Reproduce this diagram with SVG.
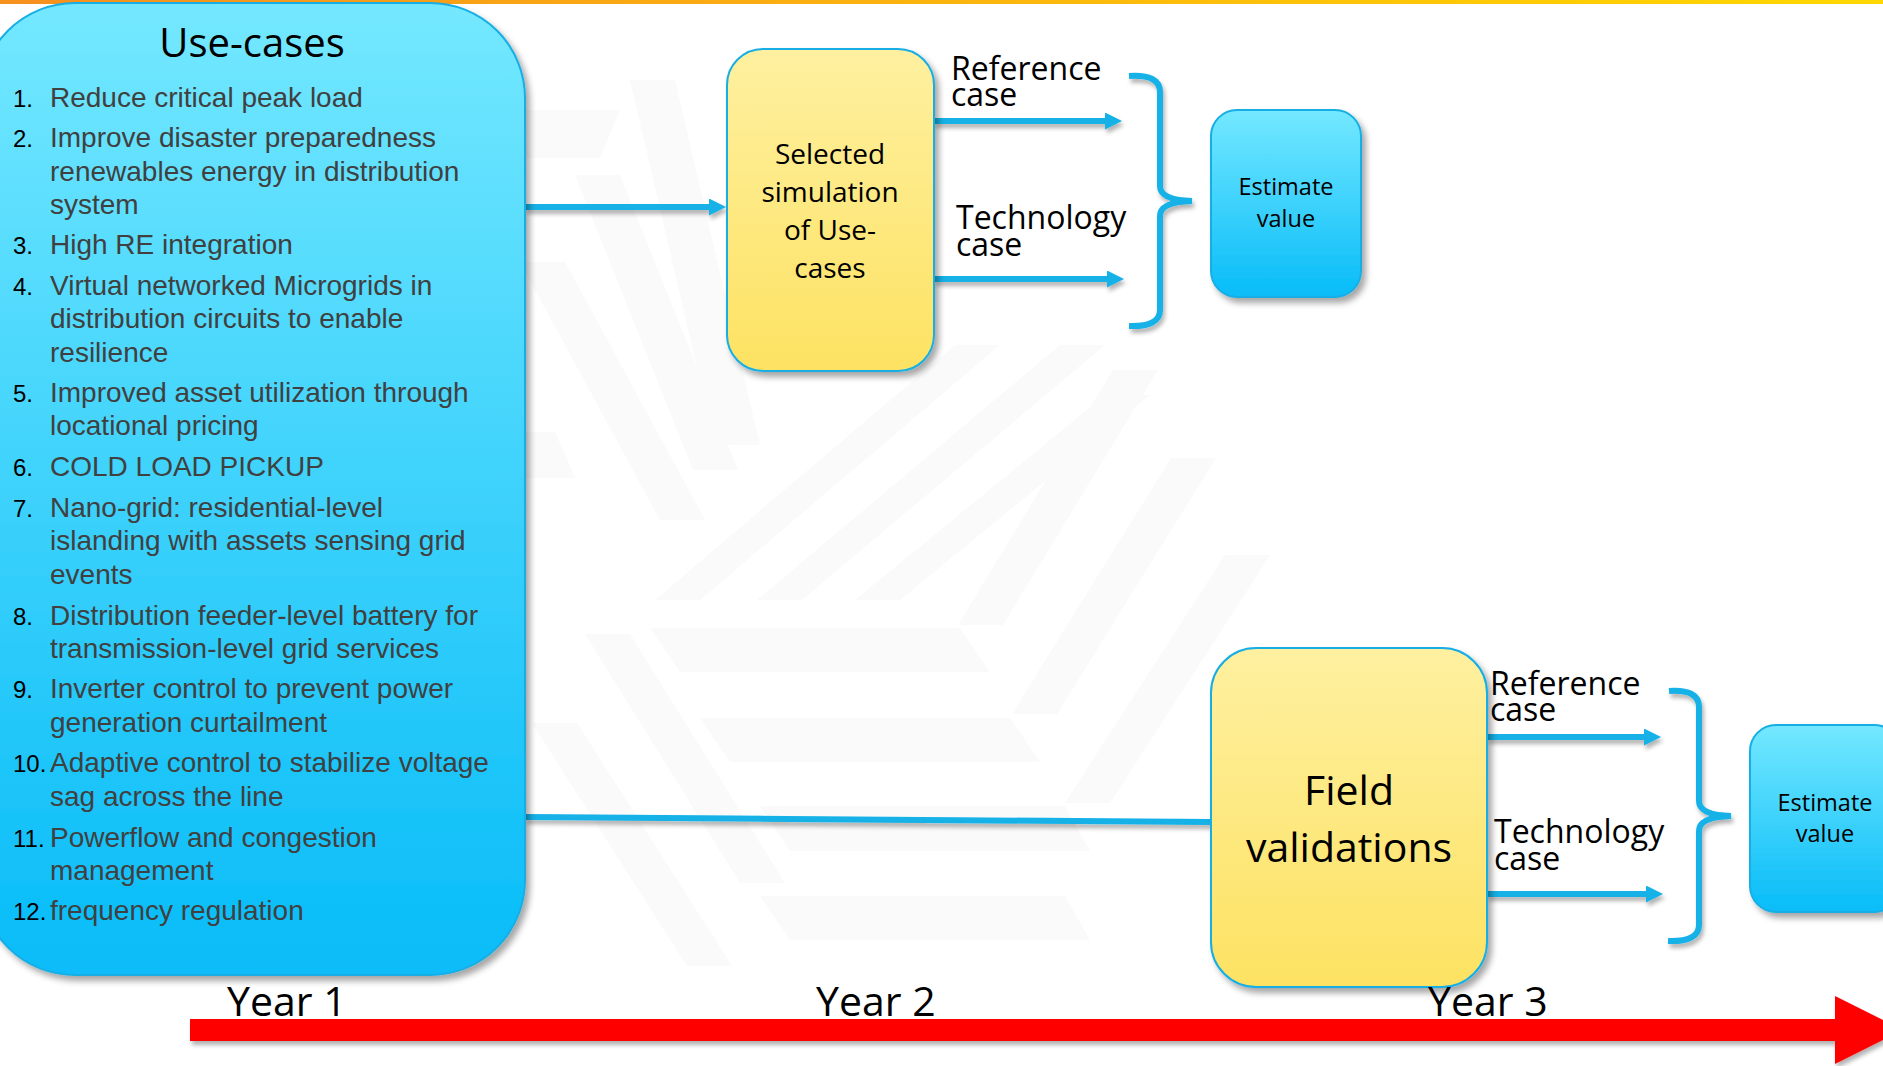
<svg xmlns="http://www.w3.org/2000/svg" width="1883" height="1066" viewBox="0 0 1883 1066">
<defs>
<linearGradient id="band" x1="0" y1="0" x2="1" y2="0"><stop offset="0" stop-color="#F7901E"/><stop offset="1" stop-color="#FFD800"/></linearGradient>
<linearGradient id="cyan" x1="0" y1="0" x2="0" y2="1"><stop offset="0" stop-color="#74E8FF"/><stop offset="1" stop-color="#07BCF8"/></linearGradient>
<linearGradient id="yellow" x1="0" y1="0" x2="0" y2="1"><stop offset="0" stop-color="#FEF0A0"/><stop offset="1" stop-color="#FDE262"/></linearGradient>
<filter id="shadow" x="-10%" y="-10%" width="130%" height="130%"><feDropShadow dx="4" dy="5" stdDeviation="3" flood-color="#000" flood-opacity="0.35"/></filter>
<filter id="lshadow" filterUnits="userSpaceOnUse" x="0" y="0" width="1883" height="1066"><feDropShadow dx="2" dy="4" stdDeviation="2" flood-color="#000" flood-opacity="0.3"/></filter>
<marker id="head" markerUnits="userSpaceOnUse" markerWidth="20" markerHeight="20" refX="3" refY="8.5" orient="auto"><path d="M0,0 L17,8.5 L0,17 z" fill="#14B1E7"/></marker>
</defs>
<style>
.item{font-family:"Liberation Sans",Arial,sans-serif;font-size:28px;fill:#404040}
.num{font-family:"Liberation Sans",Arial,sans-serif;font-size:24px;fill:#000}
.cal{font-family:"Open Sans","Noto Sans",sans-serif;fill:#000}
.box{stroke:#17AEE4;stroke-width:2}
.conn{stroke:#14B1E7;stroke-width:6;fill:none}
.wm{fill:#FAFAFA}
</style>
<rect width="1883" height="1066" fill="#FFFFFF"/>
<g id="watermark">
<polygon class="wm" points="520,110 620,110 600,158 520,158"/>
<polygon class="wm" points="630,80 675,80 760,445 715,445"/>
<polygon class="wm" points="575,175 620,175 738,470 693,470"/>
<polygon class="wm" points="520,262 565,262 705,520 660,520"/>
<polygon class="wm" points="520,432 555,432 575,478 520,478"/>
<polygon class="wm" points="655,600 700,600 1000,345 955,345"/>
<polygon class="wm" points="757,600 802,600 1105,345 1060,345"/>
<polygon class="wm" points="855,600 900,600 1150,395 1105,395"/>
<polygon class="wm" points="650,628 960,628 990,672 680,672"/>
<polygon class="wm" points="700,718 1010,718 1040,762 730,762"/>
<polygon class="wm" points="760,806 1065,806 1090,851 790,851"/>
<polygon class="wm" points="760,896 1065,896 1090,940 790,940"/>
<polygon class="wm" points="585,634 630,634 785,883 740,883"/>
<polygon class="wm" points="532,723 577,723 732,966 687,966"/>
<polygon class="wm" points="958,625 1003,625 1158,370 1113,370"/>
<polygon class="wm" points="1012,714 1057,714 1216,458 1171,458"/>
<polygon class="wm" points="1065,803 1110,803 1270,555 1225,555"/>
</g>
<rect x="0" y="0" width="1883" height="4" fill="url(#band)"/>
<g id="connectors" filter="url(#lshadow)">
<line class="conn" x1="525" y1="207" x2="712" y2="207" marker-end="url(#head)"/>
<line class="conn" x1="525" y1="817" x2="1211" y2="822" stroke-width="4.5"/>
<line class="conn" x1="934" y1="121" x2="1108" y2="121" marker-end="url(#head)"/>
<line class="conn" x1="934" y1="279" x2="1110" y2="279" marker-end="url(#head)"/>
<line class="conn" x1="1487" y1="737" x2="1647" y2="737" marker-end="url(#head)"/>
<line class="conn" x1="1487" y1="894" x2="1649" y2="894" marker-end="url(#head)"/>
<path class="conn" stroke-width="5" d="M1129,76 Q1160,74 1160,92 L1160,186 Q1160,200 1192,201 Q1160,202 1160,216 L1160,310 Q1160,327 1129,326"/>
<path class="conn" stroke-width="5" d="M1669,691 Q1699,689 1699,707 L1699,801 Q1699,815 1731,816 Q1699,817 1699,831 L1699,925 Q1699,942 1668,941"/>
</g>
<g id="use-cases">
<rect class="box" x="-20" y="3" width="545" height="972" rx="95" ry="95" fill="url(#cyan)" filter="url(#shadow)"/>
<text class="cal" x="252" y="57" font-size="40" text-anchor="middle">Use-cases</text>
<text class="num" x="13" y="107">1.</text><text class="item" x="50" y="107">Reduce critical peak load</text>
<text class="num" x="13" y="147">2.</text><text class="item" x="50" y="147">Improve disaster preparedness</text>
<text class="item" x="50" y="181">renewables energy in distribution</text>
<text class="item" x="50" y="214">system</text>
<text class="num" x="13" y="254">3.</text><text class="item" x="50" y="254">High RE integration</text>
<text class="num" x="13" y="295">4.</text><text class="item" x="50" y="295">Virtual networked Microgrids in</text>
<text class="item" x="50" y="328">distribution circuits to enable</text>
<text class="item" x="50" y="362">resilience</text>
<text class="num" x="13" y="402">5.</text><text class="item" x="50" y="402">Improved asset utilization through</text>
<text class="item" x="50" y="435">locational pricing</text>
<text class="num" x="13" y="476">6.</text><text class="item" x="50" y="476">COLD LOAD PICKUP</text>
<text class="num" x="13" y="517">7.</text><text class="item" x="50" y="517">Nano-grid: residential-level</text>
<text class="item" x="50" y="550">islanding with assets sensing grid</text>
<text class="item" x="50" y="584">events</text>
<text class="num" x="13" y="625">8.</text><text class="item" x="50" y="625">Distribution feeder-level battery for</text>
<text class="item" x="50" y="658">transmission-level grid services</text>
<text class="num" x="13" y="698">9.</text><text class="item" x="50" y="698">Inverter control to prevent power</text>
<text class="item" x="50" y="732">generation curtailment</text>
<text class="num" x="13" y="772">10.</text><text class="item" x="50" y="772">Adaptive control to stabilize voltage</text>
<text class="item" x="50" y="806">sag across the line</text>
<text class="num" x="13" y="847">11.</text><text class="item" x="50" y="847">Powerflow and congestion</text>
<text class="item" x="50" y="880">management</text>
<text class="num" x="13" y="920">12.</text><text class="item" x="50" y="920">frequency regulation</text>
</g>
<g id="selected-simulation">
<rect class="box" x="727" y="49" width="207" height="322" rx="36" ry="36" fill="url(#yellow)" filter="url(#shadow)"/>
<text class="cal" font-size="28" text-anchor="middle"><tspan x="830" y="164">Selected</tspan><tspan x="830" y="202">simulation</tspan><tspan x="830" y="240">of Use-</tspan><tspan x="830" y="278">cases</tspan></text>
</g>
<g id="label-ref-1"><text class="cal" font-size="32"><tspan x="951" y="80">Reference</tspan><tspan x="951" y="106">case</tspan></text></g>
<g id="label-tech-1"><text class="cal" font-size="32"><tspan x="956" y="229">Technology</tspan><tspan x="956" y="256">case</tspan></text></g>
<g id="estimate-1">
<rect class="box" x="1211" y="110" width="150" height="187" rx="26" ry="26" fill="url(#cyan)" filter="url(#shadow)"/>
<text class="cal" font-size="23.5" text-anchor="middle"><tspan x="1286" y="195">Estimate</tspan><tspan x="1286" y="227">value</tspan></text>
</g>
<g id="field-validations">
<rect class="box" x="1211" y="648" width="276" height="339" rx="45" ry="45" fill="url(#yellow)" filter="url(#shadow)"/>
<text class="cal" font-size="41" text-anchor="middle"><tspan x="1349" y="805">Field</tspan><tspan x="1349" y="862">validations</tspan></text>
</g>
<g id="label-ref-2"><text class="cal" font-size="32"><tspan x="1490" y="695">Reference</tspan><tspan x="1490" y="721">case</tspan></text></g>
<g id="label-tech-2"><text class="cal" font-size="32"><tspan x="1494" y="843">Technology</tspan><tspan x="1494" y="870">case</tspan></text></g>
<g id="estimate-2">
<rect class="box" x="1750" y="725" width="150" height="187" rx="26" ry="26" fill="url(#cyan)" filter="url(#shadow)"/>
<text class="cal" font-size="23.5" text-anchor="middle"><tspan x="1825" y="811">Estimate</tspan><tspan x="1825" y="842">value</tspan></text>
</g>
<g id="timeline">
<polygon points="190,1019 1835,1019 1835,996 1903,1030 1835,1064 1835,1041 190,1041" fill="#FF0000" filter="url(#lshadow)"/>
<text class="cal" font-size="41" x="227" y="1016">Year 1</text>
<text class="cal" font-size="41" x="816" y="1016">Year 2</text>
<text class="cal" font-size="41" x="1428" y="1016">Year 3</text>
</g>
</svg>
